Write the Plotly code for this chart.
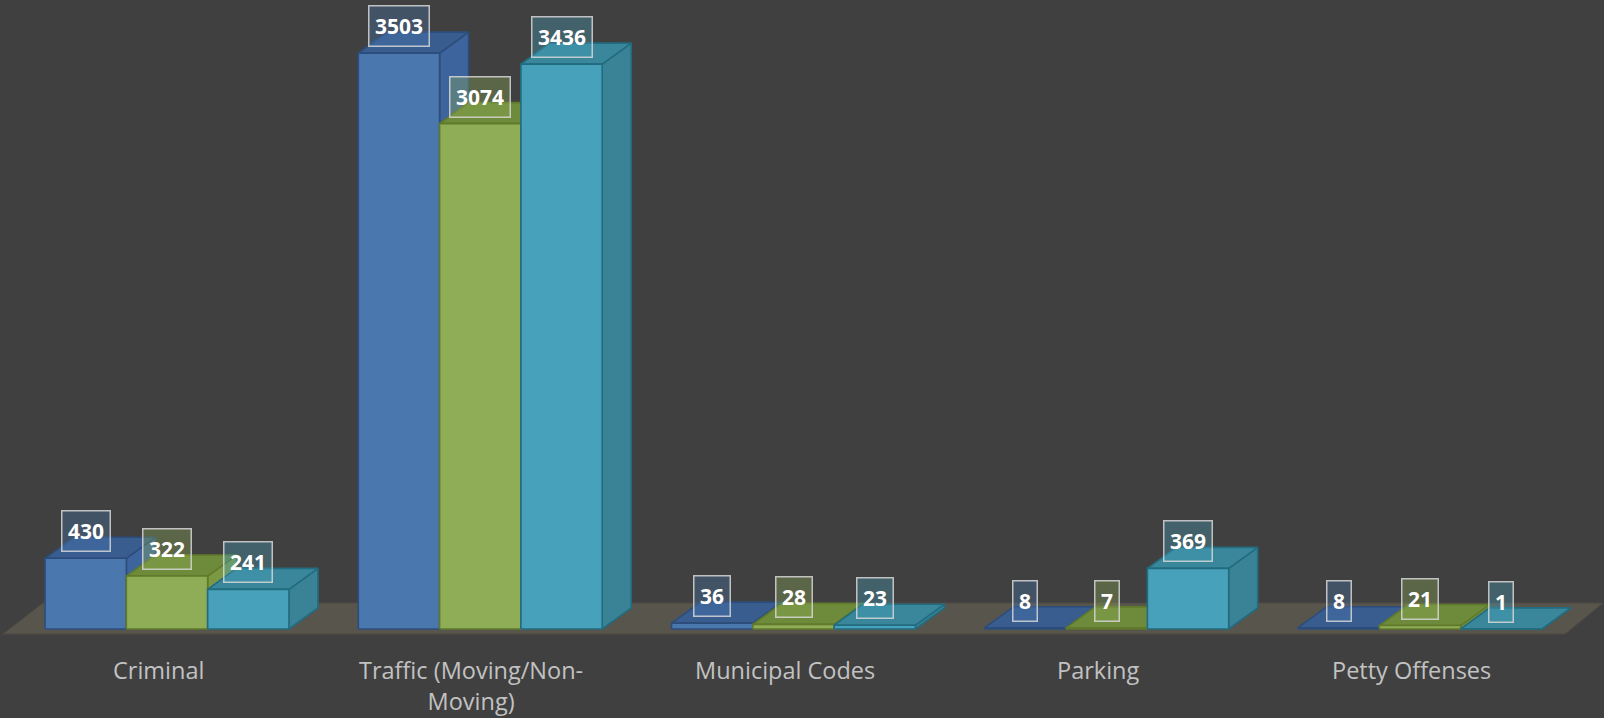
import plotly.graph_objects as go

# ---------------- data ----------------
categories = ["Criminal", "Traffic (Moving/Non-<br>Moving)", "Municipal Codes", "Parking", "Petty Offenses"]
series_a = [430, 3503, 36, 8, 8]      # blue
series_b = [322, 3074, 28, 7, 21]     # green
series_c = [241, 3436, 23, 369, 1]    # cyan

# ---------------- styling / geometry ----------------
W, H = 1604, 718
PX_PER_CAT = 313.25          # pixels per category
PX_PER_UNIT = 0.1644         # pixels per value unit
ZERO_PX = 629                # pixel row of value 0
FIRST_CAT_PX = 167           # pixel column of first category centre
BAR_W = 81.3 / PX_PER_CAT    # bar width in category units
DX = 29 / PX_PER_CAT         # depth offset (x)
DY = 21 / PX_PER_UNIT        # depth offset (y)

x_range = [-FIRST_CAT_PX / PX_PER_CAT, (W - FIRST_CAT_PX) / PX_PER_CAT]
y_range = [-(H - ZERO_PX) / PX_PER_UNIT, ZERO_PX / PX_PER_UNIT]

BG = "#404040"
styles = [
    dict(front="#4a77ae", top="#3a5d8f", side="#3d649c", edge="#2c4d7c", box="rgba(74,119,174,0.35)"),
    dict(front="#8fac56", top="#6e8a3b", side="#7b9843", edge="#5f7a2a", box="rgba(143,172,86,0.35)"),
    dict(front="#48a1ba", top="#3a879b", side="#3a8296", edge="#226c80", box="rgba(72,161,186,0.35)"),
]
all_series = [series_a, series_b, series_c]

fig = go.Figure()

# floor
floor_front = -5 / PX_PER_UNIT
floor_back = 26 / PX_PER_UNIT
fx = [(3 - FIRST_CAT_PX) / PX_PER_CAT, (1565 - FIRST_CAT_PX) / PX_PER_CAT,
      (1603 - FIRST_CAT_PX) / PX_PER_CAT, (43 - FIRST_CAT_PX) / PX_PER_CAT]
fig.add_trace(go.Scatter(x=fx + [fx[0]], y=[floor_front, floor_front, floor_back, floor_back, floor_front],
                         fill="toself", fillcolor="#58554d", line=dict(color="#4e4b45", width=1),
                         mode="lines", hoverinfo="skip", showlegend=False))

def poly_trace(xs, ys, fill, edge):
    return go.Scatter(x=xs, y=ys, fill="toself", fillcolor=fill, mode="lines",
                      line=dict(color=edge, width=1.6), hoverinfo="skip", showlegend=False)

for k, vals in enumerate(all_series):
    st = styles[k]
    sx, sy, tx, ty, fxs, fys = [], [], [], [], [], []
    for i, v in enumerate(vals):
        xl = i + (k - 1.5) * BAR_W
        xr = xl + BAR_W
        # side face
        sx += [xr, xr + DX, xr + DX, xr, xr, None]
        sy += [0, DY, v + DY, v, 0, None]
        # top face
        tx += [xl, xr, xr + DX, xl + DX, xl, None]
        ty += [v, v, v + DY, v + DY, v, None]
        # front face
        fxs += [xl, xr, xr, xl, xl, None]
        fys += [0, 0, v, v, 0, None]
    fig.add_trace(poly_trace(sx, sy, st["side"], st["edge"]))
    fig.add_trace(poly_trace(tx, ty, st["top"], st["edge"]))
    fig.add_trace(poly_trace(fxs, fys, st["front"], st["edge"]))

# value labels
for k, vals in enumerate(all_series):
    st = styles[k]
    for i, v in enumerate(vals):
        fig.add_annotation(x=i + (k - 1) * BAR_W, y=v, text=str(v), showarrow=False,
                           yshift=27, xanchor="center", yanchor="middle",
                           font=dict(family="Open Sans", size=21, color="white", weight="bold"),
                           bgcolor=st["box"], bordercolor="rgba(215,215,215,0.85)",
                           borderwidth=1.5, borderpad=5.5)

# category labels
for i, c in enumerate(categories):
    fig.add_annotation(x=i, y=(ZERO_PX - 652) / PX_PER_UNIT, text=c, showarrow=False,
                       xshift=-9, xanchor="center", yanchor="top", align="center",
                       font=dict(family="Open Sans", size=23.5, color="#c2c2c2"))

fig.update_layout(
    width=W, height=H, autosize=False,
    margin=dict(l=0, r=0, t=0, b=0),
    paper_bgcolor=BG, plot_bgcolor=BG,
    showlegend=False,
    xaxis=dict(range=x_range, visible=False, fixedrange=True),
    yaxis=dict(range=y_range, visible=False, fixedrange=True),
)

fig.write_html("out.html",
               config={"displayModeBar": False},
               post_script="document.body.style.margin='0';document.body.style.background='#404040';"
                           "document.body.style.overflow='hidden';")
